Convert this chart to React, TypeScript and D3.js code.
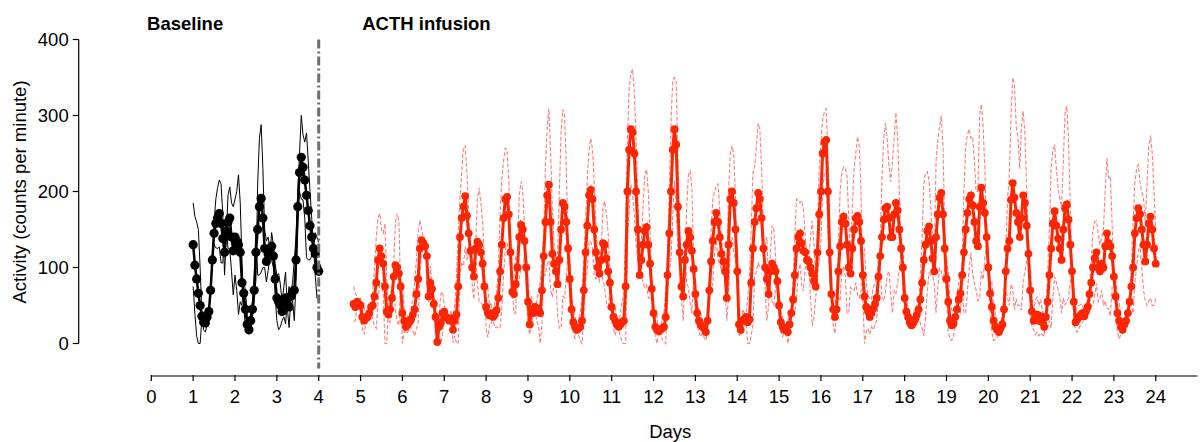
import React from "react";
import * as d3 from "d3";

// ---------- data ----------
const xTickValues = d3.range(0, 25);
const yTickValues = [0, 100, 200, 300, 400];

// baseline: hourly from day 1.0 (hour 24)
const baselineStartHour = 24;
const baselineMean = [
  130, 103, 85, 66, 50, 36, 28, 27, 35, 42, 70, 110,
  145, 158, 165, 171, 158, 138, 120, 148, 160, 165, 140, 122,
  140, 135, 130, 120, 80, 66, 45, 25, 18, 30, 45, 70,
  120, 150, 180, 191, 165, 125, 108, 118, 120, 128, 115, 85,
  60, 55, 50, 42, 55, 60, 52, 48, 62, 68, 70, 110,
  180, 225, 245, 232, 215, 195, 175, 155, 140, 125, 118, 100, 95,
];
const baselineMouseA = [
  185, 167, 160, 150, 100, 40, 18, 15, 25, 40, 70, 110,
  160, 190, 205, 215, 210, 170, 90, 140, 195, 206, 185, 180,
  190, 200, 222, 185, 110, 50, 20, 13, 20, 18, 35, 55,
  84, 210, 270, 288, 230, 150, 135, 140, 125, 110, 100, 65,
  30, 18, 22, 30, 35, 26, 57, 75, 66, 80, 110, 140,
  200, 250, 300, 275, 265, 277, 240, 200, 165, 130, 90, 60, 57,
];
const baselineMouseB = [
  75, 39, 10, 0, 0, 32, 38, 39, 45, 44, 70, 110,
  130, 126, 125, 127, 106, 106, 150, 156, 125, 124, 95, 64,
  90, 70, 38, 55, 50, 82, 70, 37, 16, 42, 55, 85,
  156, 90, 90, 94, 100, 100, 81, 96, 115, 146, 130, 105,
  90, 92, 78, 54, 75, 94, 47, 21, 58, 56, 30, 80,
  160, 200, 190, 189, 165, 113, 110, 110, 115, 120, 146, 140, 133,
];

// ACTH infusion: hourly from hour 116 (day 4.83)
const acthStartHour = 116;
const acthMean = [
  52, 48, 55, 52,
  50, 35, 30, 33, 35, 40, 48, 50, 62, 80, 110, 125, 115, 105, 75, 42, 38, 45, 60, 88, 103, 100, 92, 75,
  40, 30, 22, 25, 28, 32, 38, 45, 65, 85, 125, 136, 132, 128, 115, 62, 80, 72, 52, 35, 2, 22, 27, 40,
  42, 35, 33, 30, 33, 18, 30, 38, 75, 140, 165, 180, 194, 168, 145, 122, 100, 88, 125, 134, 130, 120, 105, 75,
  48, 40, 37, 40, 35, 38, 44, 60, 95, 130, 165, 190, 193, 170, 120, 68, 65, 78, 100, 140, 156, 150, 135, 100,
  55, 25, 45, 40, 48, 42, 46, 40, 70, 115, 160, 195, 209, 160, 118, 105, 95, 78, 110, 150, 185, 180, 160, 125,
  85, 45, 28, 22, 18, 20, 22, 30, 70, 120, 155, 195, 202, 190, 150, 120, 100, 92, 110, 132, 130, 112, 95, 80,
  48, 35, 30, 25, 22, 25, 28, 30, 75, 200, 255, 282, 278, 250, 200, 150, 90, 110, 130, 148, 153, 130, 105, 72,
  40, 22, 18, 16, 18, 20, 22, 35, 90, 145, 200, 255, 282, 262, 180, 120, 75, 62, 110, 130, 148, 140, 122, 98,
  65, 40, 30, 25, 22, 20, 15, 30, 70, 108, 135, 160, 172, 160, 140, 118, 108, 95, 60, 130, 190, 200, 185, 150,
  95, 25, 18, 30, 32, 35, 28, 32, 80, 125, 160, 178, 198, 190, 165, 125, 100, 85, 65, 95, 105, 100, 95, 82,
  50, 28, 22, 18, 20, 15, 25, 40, 58, 90, 125, 140, 145, 132, 122, 120, 110, 108, 100, 92, 82, 75, 120, 170,
  200, 250, 265, 268, 200, 120, 65, 45, 35, 45, 95, 128, 160, 167, 158, 130, 100, 92, 125, 150, 165, 168, 160, 135,
  90, 62, 48, 42, 35, 40, 46, 52, 60, 88, 115, 140, 163, 178, 180, 165, 140, 140, 170, 185, 175, 150, 125, 100,
  60, 42, 35, 28, 24, 28, 32, 38, 45, 58, 80, 110, 130, 148, 154, 135, 112, 95, 140, 170, 192, 198, 170, 125,
  85, 55, 30, 24, 26, 35, 45, 58, 66, 90, 120, 150, 172, 190, 195, 182, 160, 135, 128, 180, 205, 185, 172, 140,
  100, 66, 48, 30, 22, 18, 15, 20, 25, 45, 95, 125, 135, 189, 211, 192, 172, 160, 140, 165, 195, 185, 155, 118,
  70, 42, 30, 35, 38, 30, 36, 28, 22, 35, 55, 90, 125, 158, 174, 155, 138, 125, 110, 150, 178, 183, 163, 130,
  95, 55, 28, 32, 35, 38, 40, 36, 42, 48, 65, 80, 100, 112, 120, 100, 95, 105, 100, 128, 145, 132, 128, 115,
  88, 62, 40, 30, 22, 18, 25, 30, 40, 55, 75, 100, 145, 165, 178, 170, 150, 130, 108, 130, 158, 167, 150, 125,
  105,
];
const acthMouseA = [
  75, 66, 62, 55,
  40, 20, 12, 28, 30, 35, 45, 70, 100, 140, 165, 171, 150, 145, 158, 90, 30, 28, 45, 105, 160, 171, 160, 70,
  0, 15, 30, 14, 22, 45, 60, 80, 110, 145, 162, 150, 140, 130, 115, 70, 58, 68, 45, 13, 20, 35, 65, 68,
  50, 40, 35, 28, 22, 35, 50, 90, 150, 190, 225, 258, 260, 225, 175, 120, 78, 58, 130, 190, 205, 185, 160, 110,
  20, 8, 25, 26, 40, 55, 66, 100, 170, 215, 240, 257, 255, 215, 140, 70, 40, 40, 120, 195, 213, 200, 155, 80,
  25, 12, 28, 35, 45, 55, 68, 80, 115, 140, 230, 285, 309, 250, 175, 130, 105, 120, 200, 280, 308, 300, 230, 130,
  60, 25, 13, 7, 18, 30, 40, 62, 110, 160, 215, 255, 270, 255, 210, 155, 110, 80, 120, 180, 187, 170, 145, 90,
  45, 20, 11, 20, 26, 40, 55, 66, 150, 270, 335, 355, 361, 330, 270, 190, 90, 130, 180, 222, 229, 200, 150, 80,
  30, 10, 0, 15, 22, 35, 40, 70, 115, 195, 290, 345, 350, 345, 240, 140, 60, 30, 90, 180, 222, 227, 205, 110,
  45, 25, 15, 9, 14, 8, 4, 20, 70, 150, 190, 200, 208, 210, 175, 140, 105, 115, 90, 200, 250, 260, 250, 190,
  100, 10, 15, 45, 40, 35, 60, 90, 150, 225, 233, 260, 290, 280, 230, 150, 70, 30, 50, 120, 155, 150, 115, 70,
  35, 15, 9, 15, 25, 30, 38, 42, 80, 140, 190, 188, 185, 188, 175, 140, 115, 105, 140, 161, 130, 90, 150, 230,
  265, 295, 305, 309, 250, 150, 70, 25, 13, 40, 130, 200, 225, 232, 230, 220, 160, 110, 180, 230, 250, 272, 260, 200,
  60, 0, 15, 20, 12, 22, 18, 25, 30, 66, 130, 220, 270, 290, 270, 235, 213, 240, 270, 304, 270, 200, 130, 70,
  45, 26, 22, 20, 24, 28, 22, 26, 50, 90, 140, 210, 225, 226, 215, 180, 135, 112, 240, 268, 285, 300, 260, 150,
  60, 15, 6, 4, 9, 22, 28, 35, 40, 110, 200, 260, 275, 282, 270, 272, 240, 200, 200, 300, 315, 286, 230, 150,
  100, 50, 15, 4, 5, 8, 10, 12, 15, 60, 120, 190, 220, 300, 350, 340, 285, 270, 230, 286, 306, 275, 200, 120,
  40, 22, 18, 12, 15, 10, 14, 12, 9, 40, 90, 150, 230, 255, 260, 230, 205, 190, 180, 240, 305, 312, 265, 180,
  90, 35, 18, 15, 20, 25, 28, 32, 35, 38, 70, 110, 150, 160, 161, 145, 130, 140, 150, 200, 244, 218, 220, 155,
  100, 40, 15, 6, 12, 15, 20, 25, 30, 50, 100, 160, 210, 230, 235, 210, 200, 190, 160, 210, 260, 274, 250, 200,
  150,
];
const acthMouseB = [
  29, 30, 48, 49,
  60, 50, 48, 38, 40, 45, 51, 30, 24, 20, 55, 79, 80, 65, 0, 0, 46, 62, 75, 71, 46, 29, 24, 80,
  80, 45, 14, 36, 34, 19, 16, 10, 20, 25, 88, 122, 124, 126, 115, 54, 102, 76, 59, 57, 0, 9, 0, 12,
  34, 30, 31, 32, 44, 1, 10, 0, 0, 90, 105, 102, 128, 111, 115, 124, 122, 118, 120, 78, 55, 55, 50, 40,
  76, 72, 49, 54, 30, 21, 22, 20, 20, 45, 90, 123, 131, 125, 100, 66, 90, 116, 80, 85, 99, 100, 115, 120,
  85, 38, 62, 45, 51, 29, 24, 0, 25, 90, 90, 105, 109, 70, 61, 80, 85, 36, 20, 20, 62, 60, 90, 120,
  110, 65, 43, 37, 18, 10, 4, 0, 30, 80, 95, 135, 134, 125, 90, 85, 90, 104, 100, 84, 73, 54, 45, 70,
  51, 50, 49, 30, 18, 10, 1, 0, 0, 130, 175, 209, 195, 170, 130, 110, 90, 90, 80, 74, 77, 60, 60, 64,
  50, 34, 36, 17, 14, 5, 4, 0, 65, 95, 110, 165, 214, 179, 120, 100, 90, 94, 130, 80, 74, 53, 39, 86,
  85, 55, 45, 41, 30, 32, 26, 40, 70, 66, 80, 120, 136, 110, 105, 96, 111, 75, 30, 60, 130, 140, 120, 110,
  90, 40, 21, 15, 24, 35, 0, 0, 10, 25, 87, 96, 106, 100, 100, 100, 130, 140, 80, 70, 55, 50, 75, 94,
  65, 41, 35, 21, 15, 0, 12, 38, 36, 40, 60, 92, 105, 76, 69, 100, 105, 111, 60, 23, 34, 60, 90, 110,
  135, 205, 225, 227, 150, 90, 60, 65, 57, 50, 60, 56, 95, 102, 86, 40, 40, 74, 70, 70, 80, 64, 60, 70,
  120, 124, 81, 64, 58, 58, 74, 79, 90, 110, 100, 60, 56, 66, 90, 95, 67, 40, 70, 66, 80, 100, 120, 130,
  75, 58, 48, 36, 24, 28, 42, 50, 40, 26, 20, 10, 35, 70, 93, 90, 89, 78, 40, 72, 99, 96, 80, 100,
  110, 95, 54, 44, 43, 48, 62, 81, 92, 70, 40, 40, 69, 98, 120, 92, 80, 70, 56, 60, 95, 84, 114, 130,
  100, 82, 81, 56, 39, 28, 20, 28, 35, 30, 70, 60, 50, 78, 72, 44, 59, 50, 50, 44, 84, 95, 110, 116,
  100, 62, 42, 58, 61, 50, 58, 44, 35, 30, 20, 30, 20, 61, 88, 80, 71, 60, 40, 60, 51, 54, 61, 80,
  100, 75, 38, 49, 50, 51, 52, 40, 49, 58, 60, 50, 50, 64, 79, 55, 60, 70, 50, 56, 46, 46, 36, 75,
  76, 84, 65, 54, 32, 21, 30, 35, 50, 60, 50, 40, 80, 100, 121, 130, 100, 70, 56, 50, 56, 60, 50, 50,
  60,
];

const infusionStartDay = 4;
const titles = [
  { label: "Baseline", day: -0.1 },
  { label: "ACTH infusion", day: 5.04 },
];

// ---------- component ----------
type Pt = [number, number];

export default function App() {
  const W = 1202;
  const H = 442;
  const font = "'Liberation Sans', Arial, Helvetica, sans-serif";
  const fs = 18.5;

  const x = d3.scaleLinear().domain([0, 25]).range([151.3, 1197.6]);
  const y = d3.scaleLinear().domain([0, 400]).range([343.5, 39.5]);

  const toPts = (vals: number[], startHour: number): Pt[] =>
    vals.map((v, i) => [(startHour + i) / 24, v] as Pt);

  const line = d3
    .line<Pt>()
    .x((d) => x(d[0]))
    .y((d) => y(d[1]));

  const bMean = toPts(baselineMean, baselineStartHour);
  const bA = toPts(baselineMouseA, baselineStartHour);
  const bB = toPts(baselineMouseB, baselineStartHour);
  const aMean = toPts(acthMean, acthStartHour);
  const aA = toPts(acthMouseA, acthStartHour);
  const aB = toPts(acthMouseB, acthStartHour);

  const red = "#ff2500";
  const dashRed = "#ff6e6e";

  const yAxisX = 78.7;
  const xAxisY = 376;

  return (
    <svg
      width={W}
      height={H}
      style={{ position: "absolute", left: 0, top: 0, display: "block", background: "#fff" }}
      fontFamily={font}
    >
      {/* titles */}
      {titles.map((t) => (
        <text key={t.label} x={x(t.day)} y={30} fontSize={fs} fontWeight="bold" fill="#000">
          {t.label}
        </text>
      ))}

      {/* y axis */}
      <line x1={yAxisX} x2={yAxisX} y1={y(400)} y2={y(0)} stroke="#000" strokeWidth={1.2} />
      {yTickValues.map((v) => (
        <g key={v}>
          <line x1={yAxisX - 6} x2={yAxisX} y1={y(v)} y2={y(v)} stroke="#000" strokeWidth={1.2} />
          <text x={yAxisX - 10} y={y(v)} dy="0.35em" textAnchor="end" fontSize={fs} fill="#000">
            {v}
          </text>
        </g>
      ))}
      <text
        transform={`translate(26, ${(80 + 304) / 2}) rotate(-90)`}
        textAnchor="middle"
        fontSize={fs}
        fill="#000"
      >
        Activity (counts per minute)
      </text>

      {/* x axis */}
      <line x1={x(0)} x2={x(25)} y1={xAxisY} y2={xAxisY} stroke="#000" strokeWidth={1.2} />
      {xTickValues.map((v) => (
        <g key={v}>
          <line x1={x(v)} x2={x(v)} y1={xAxisY - 1} y2={xAxisY + 5} stroke="#000" strokeWidth={1.2} />
          <text x={x(v)} y={403} textAnchor="middle" fontSize={fs} fill="#000">
            {v}
          </text>
        </g>
      ))}
      <text x={x(12.4)} y={438} textAnchor="middle" fontSize={fs} fill="#000">
        Days
      </text>

      {/* baseline individual lines */}
      <path d={line(bA) || ""} fill="none" stroke="#000" strokeWidth={1} />
      <path d={line(bB) || ""} fill="none" stroke="#000" strokeWidth={1} />
      {/* baseline mean */}
      <path d={line(bMean) || ""} fill="none" stroke="#000" strokeWidth={2.5} />
      {bMean.map((d, i) => (
        <circle key={i} cx={x(d[0])} cy={y(d[1])} r={4.6} fill="#000" />
      ))}

      {/* ACTH individual dashed lines */}
      <path d={line(aA) || ""} fill="none" stroke={dashRed} strokeOpacity={0.9} strokeWidth={1.1} strokeDasharray="4,2" />
      <path d={line(aB) || ""} fill="none" stroke={dashRed} strokeOpacity={0.9} strokeWidth={1.1} strokeDasharray="4,2" />
      {/* ACTH mean */}
      <path d={line(aMean) || ""} fill="none" stroke={red} strokeWidth={3} />
      {aMean.map((d, i) => (
        <circle key={i} cx={x(d[0])} cy={y(d[1])} r={3.9} fill={red} />
      ))}

      {/* infusion start marker */}
      <line
        x1={x(infusionStartDay)}
        x2={x(infusionStartDay)}
        y1={y(400)}
        y2={y(-33)}
        stroke="#6e6e6e"
        strokeWidth={3}
        strokeDasharray="9,3,2,3"
      />
    </svg>
  );
}
